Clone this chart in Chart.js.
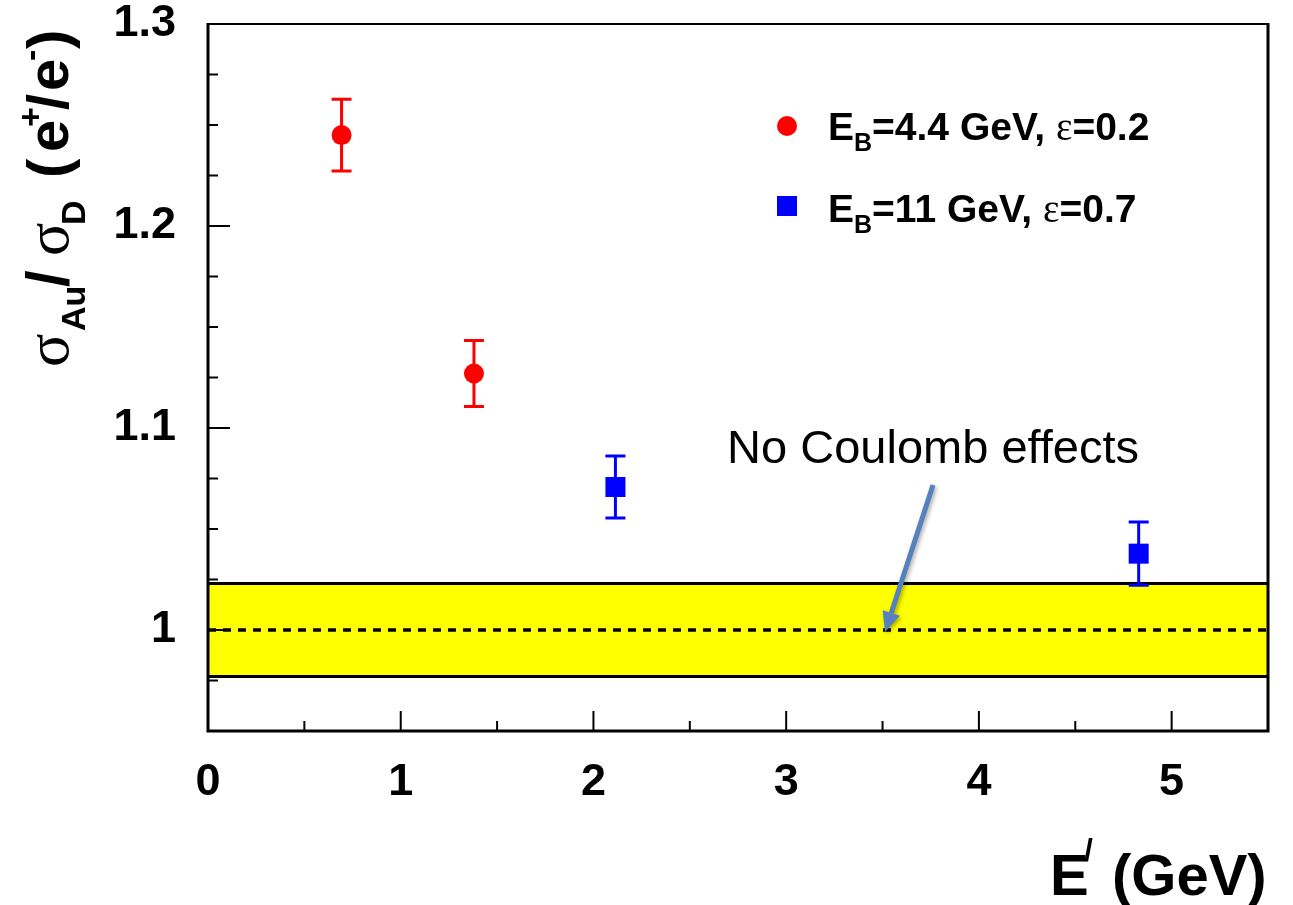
<!DOCTYPE html>
<html><head><meta charset="utf-8">
<script src="https://cdn.jsdelivr.net/npm/chart.js@4.4.1/dist/chart.umd.min.js"></script>
<style>html,body{margin:0;padding:0;background:#fff}#wrap{width:1293px;height:905px;position:relative}</style>
</head><body><div id="wrap"><canvas id="c"></canvas></div>
<script>
// ---- data ----
const redX = [0.693, 1.380];
const redY = [1.245, 1.127];
const redErr = [0.0178, 0.0163];
const blueX = [2.114, 4.829];
const blueY = [1.0708, 1.0378];
const blueErr = [0.0154, 0.0157];
const bandLow = 0.977, bandHigh = 1.023, refLine = 1.0;
const xRange = [0, 5.5];
const yRange = [0.95, 1.3];
const xStep = 0.5, yStep = 0.025;
const noteText = 'No Coulomb effects';
const notePos = [3.762, 1.0827];
const arrowFrom = [3.762, 1.0718];
const arrowTo = [3.513, 0.999];

const SANS = '"Liberation Sans", Arial, Helvetica, sans-serif';
const SERIF = '"Liberation Serif", "Times New Roman", serif';
Chart.defaults.font.family = SANS;

function isMult(v, m){ return Math.abs(v/m - Math.round(v/m)) < 1e-6; }

function drawParts(ctx, x, y, parts){
  let cx = x;
  for (const p of parts){
    ctx.font = p.f;
    const px = (p.at !== undefined) ? x + p.at : cx;
    ctx.fillText(p.t, px, y + (p.dy || 0));
    cx = px + ctx.measureText(p.t).width + (p.gap || 0);
  }
  return cx;
}

const decor = {
  id: 'decor',
  afterDatasetsDraw(chart){
    const ctx = chart.ctx, xs = chart.scales.x, ys = chart.scales.y;
    ctx.save();
    ctx.lineWidth = 3;
    const bars = (X, Y, E, col) => {
      ctx.strokeStyle = col;
      for (let i = 0; i < X.length; i++){
        const px = xs.getPixelForValue(X[i]);
        const t = ys.getPixelForValue(Y[i] + E[i]);
        const b = ys.getPixelForValue(Y[i] - E[i]);
        ctx.beginPath();
        ctx.moveTo(px, t); ctx.lineTo(px, b);
        ctx.moveTo(px - 10, t); ctx.lineTo(px + 10, t);
        ctx.moveTo(px - 10, b); ctx.lineTo(px + 10, b);
        ctx.stroke();
      }
    };
    bars(redX, redY, redErr, '#ff0000');
    bars(blueX, blueY, blueErr, '#0000ff');
    ctx.restore();
  },
  afterDraw(chart){
    const ctx = chart.ctx, xs = chart.scales.x, ys = chart.scales.y;
    const a = chart.chartArea;
    ctx.save();
    // frame
    ctx.strokeStyle = '#000';
    ctx.lineWidth = 2;
    ctx.beginPath(); ctx.moveTo(a.left, a.top); ctx.lineTo(a.right, a.top); ctx.stroke();
    ctx.lineWidth = 3;
    ctx.beginPath(); ctx.moveTo(a.left, a.top - 1); ctx.lineTo(a.left, a.bottom); ctx.lineTo(a.right, a.bottom); ctx.lineTo(a.right, a.top - 1); ctx.stroke();
    // ticks
    ctx.lineWidth = 2;
    ys.ticks.forEach(t => {
      const py = ys.getPixelForValue(t.value);
      const len = isMult(t.value, 0.1) ? 22 : 10;
      ctx.beginPath(); ctx.moveTo(a.left, py); ctx.lineTo(a.left + len, py); ctx.stroke();
    });
    xs.ticks.forEach(t => {
      const px = xs.getPixelForValue(t.value);
      const len = isMult(t.value, 1) ? 20 : 10;
      ctx.beginPath(); ctx.moveTo(px, a.bottom); ctx.lineTo(px, a.bottom - len); ctx.stroke();
    });

    // arrow
    const ax0 = xs.getPixelForValue(arrowFrom[0]), ay0 = ys.getPixelForValue(arrowFrom[1]);
    const ax1 = xs.getPixelForValue(arrowTo[0]), ay1 = ys.getPixelForValue(arrowTo[1]);
    const ang = Math.atan2(ay1 - ay0, ax1 - ax0);
    const hl = 20, hw = 9;
    const bx = ax1 - hl * Math.cos(ang), by = ay1 - hl * Math.sin(ang);
    ctx.save();
    ctx.shadowColor = 'rgba(0,0,0,0.35)';
    ctx.shadowBlur = 4; ctx.shadowOffsetX = 1.5; ctx.shadowOffsetY = 2;
    ctx.strokeStyle = '#5582bf'; ctx.fillStyle = '#5582bf';
    ctx.lineWidth = 5; ctx.lineCap = 'butt';
    ctx.beginPath(); ctx.moveTo(ax0, ay0); ctx.lineTo(bx, by); ctx.stroke();
    ctx.beginPath();
    ctx.moveTo(ax1, ay1);
    ctx.lineTo(bx + hw * Math.sin(ang), by - hw * Math.cos(ang));
    ctx.lineTo(bx - hw * Math.sin(ang), by + hw * Math.cos(ang));
    ctx.closePath(); ctx.fill();
    ctx.restore();

    // note text
    ctx.fillStyle = '#000';
    ctx.font = '47px ' + SANS;
    ctx.textAlign = 'center'; ctx.textBaseline = 'alphabetic';
    ctx.fillText(noteText, xs.getPixelForValue(notePos[0]), ys.getPixelForValue(notePos[1]));
    ctx.textAlign = 'left';

    // legend
    ctx.fillStyle = '#ff0000';
    ctx.beginPath(); ctx.arc(787, 126, 10, 0, Math.PI * 2); ctx.fill();
    ctx.fillStyle = '#0000ff';
    ctx.fillRect(777, 196, 20, 20);
    ctx.fillStyle = '#000';
    const B38 = 'bold 39px ' + SANS, B24 = 'bold 25px ' + SANS, E38 = '39px ' + SERIF;
    drawParts(ctx, 828, 140, [
      {t:'E', f:B38}, {t:'B', f:B24, dy:11}, {t:'=4.4 GeV, ', f:B38}, {t:'\u03b5', f:E38}, {t:'=0.2', f:B38}
    ]);
    drawParts(ctx, 828, 222, [
      {t:'E', f:B38}, {t:'B', f:B24, dy:11}, {t:'=11 GeV, ', f:B38}, {t:'\u03b5', f:E38}, {t:'=0.7', f:B38}
    ]);

    // x title
    const B58 = 'bold 58px ' + SANS;
    drawParts(ctx, 1050, 895, [{t:'E', f:B58}]);
    drawParts(ctx, 1084, 861, [{t:'/', f:'bold 32px ' + SANS}]);
    drawParts(ctx, 1112, 895, [{t:'(GeV)', f:B58}]);

    // y title (rotated)
    ctx.save();
    ctx.translate(68, 367);
    ctx.rotate(-Math.PI / 2);
    const S60 = '62px ' + SERIF, B34 = 'bold 34px ' + SANS, BS = 'bold 60px ' + SANS;
    drawParts(ctx, 0, 0, [
      {t:'\u03c3', f:S60, at:0},
      {t:'Au', f:B34, at:36, dy:17},
      {t:'/', f:BS, at:80},
      {t:'\u03c3', f:S60, at:111},
      {t:'D', f:B34, at:142, dy:17},
      {t:'(', f:B58, at:189},
      {t:'e', f:B58, at:215},
      {t:'+', f:B34, at:240, dy:-26},
      {t:'/', f:B58, at:257},
      {t:'e', f:B58, at:276},
      {t:'-', f:B34, at:306, dy:-26},
      {t:')', f:B58, at:318}
    ]);
    ctx.restore();

    ctx.restore();
  }
};

const pts = (X, Y) => X.map((x, i) => ({x, y: Y[i]}));

new Chart(document.getElementById('c'), {
  type: 'scatter',
  data: {
    datasets: [
      { label: 'EB=4.4 GeV', data: pts(redX, redY), pointStyle: 'circle', pointRadius: 10,
        backgroundColor: '#ff0000', borderWidth: 0, order: 0 },
      { label: 'EB=11 GeV', data: pts(blueX, blueY), pointStyle: 'rect', pointRadius: 14.14,
        backgroundColor: '#0000ff', borderWidth: 0, order: 0 },
      { type: 'line', label: 'ref', data: [{x: xRange[0], y: refLine}, {x: xRange[1], y: refLine}],
        borderColor: '#000', borderWidth: 3.5, borderDash: [8, 7], pointRadius: 0, fill: false, order: 5 },
      { type: 'line', label: 'bandLow', data: [{x: xRange[0], y: bandLow}, {x: xRange[1], y: bandLow}],
        borderColor: '#000', borderWidth: 3, pointRadius: 0, fill: false, order: 8 },
      { type: 'line', label: 'bandHigh', data: [{x: xRange[0], y: bandHigh}, {x: xRange[1], y: bandHigh}],
        borderColor: '#000', borderWidth: 3, pointRadius: 0, order: 9,
        fill: {target: {value: bandLow}}, backgroundColor: '#ffff00' }
    ]
  },
  options: {
    responsive: true, maintainAspectRatio: false, animation: false,
    layout: { padding: { left: 0, right: 25, top: 24, bottom: 0 } },
    plugins: { legend: { display: false }, tooltip: { enabled: false }, title: { display: false } },
    scales: {
      x: {
        type: 'linear', min: xRange[0], max: xRange[1],
        grid: { display: false }, border: { display: false },
        ticks: { stepSize: xStep, autoSkip: false, maxRotation: 0, padding: 17, color: '#000',
          font: { size: 45, weight: 'bold' },
          callback: v => isMult(v, 1) ? String(Math.round(v)) : '' },
        afterFit: s => { s.height = 174; s.paddingLeft = 0; s.paddingRight = 0; }
      },
      y: {
        type: 'linear', min: yRange[0], max: yRange[1],
        grid: { display: false }, border: { display: false },
        ticks: { stepSize: yStep, autoSkip: false, padding: 24, color: '#000',
          font: { size: 45, weight: 'bold' },
          callback: v => { if (!isMult(v, 0.1)) return ''; const r = Math.round(v * 10) / 10; return Number.isInteger(r) ? String(r) : r.toFixed(1); } },
        afterFit: s => { s.width = 208; s.paddingTop = 0; s.paddingBottom = 0; }
      }
    }
  },
  plugins: [decor]
});
</script>
</body></html>
